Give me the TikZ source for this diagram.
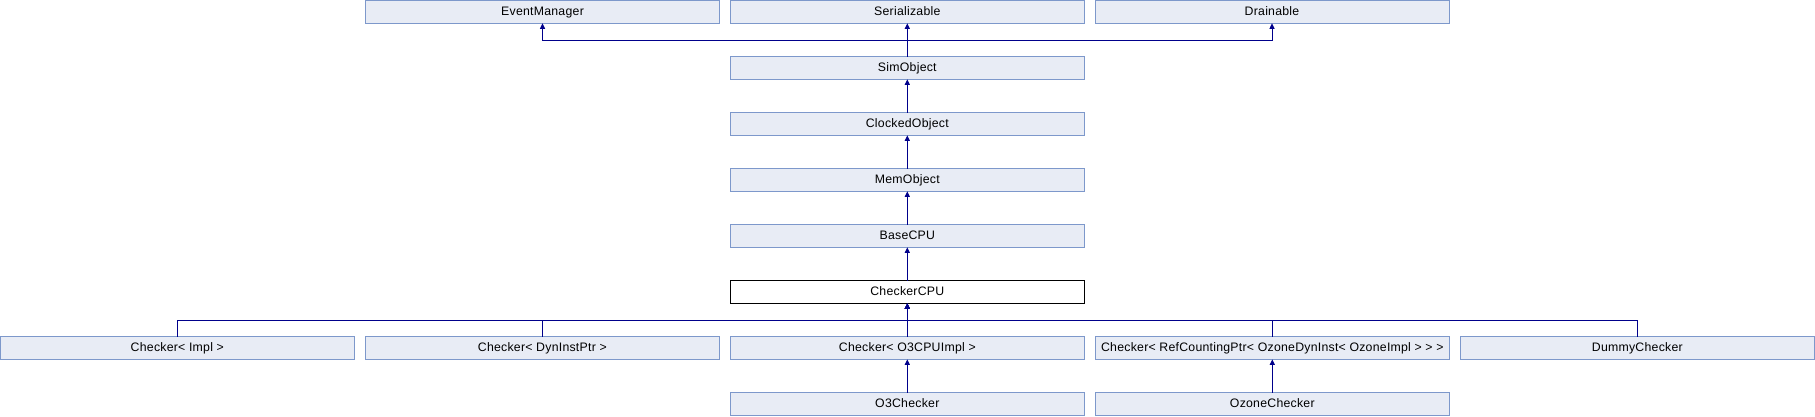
\documentclass[tikz,border=0pt]{standalone}
\usepackage{fontspec}
\setmainfont{Liberation Sans}
\newfontfamily\boxfont[LetterSpace=2]{Liberation Sans}
\usepackage{xcolor}
\usepackage{tikz}
\usetikzlibrary{positioning,arrows.meta,calc}
\definecolor{boxfill}{HTML}{E8ECF5}
\definecolor{boxline}{HTML}{7D98CB}
\definecolor{arrline}{HTML}{00008B}
\tikzset{
  box/.style={draw=boxline,fill=boxfill,line width=1pt,outer sep=0pt,minimum width=354pt,minimum height=22.6pt,inner sep=0pt,text height=8.8pt,text depth=2.6pt,font=\boxfont\fontsize{12.3}{14}\selectfont},
  cur/.style={box,draw=black,fill=white},
  arr/.style={{Triangle[width=5pt,length=5.5pt]}-,draw=arrline,line width=1pt},
}

\begin{document}
\begin{tikzpicture}[x=1pt,y=1pt]
\useasboundingbox (0,0) rectangle (1815,-416);
% top row
\node[box] (em) at (542.5,-12) {EventManager};
\node[box] (ser) at (907.3,-12) {Serializable};
\node[box] (drn) at (1272,-12) {Drainable};
% chain
\node[box, below=33.4pt of ser] (sim) {SimObject};
\node[box, below=33.4pt of sim] (clk) {ClockedObject};
\node[box, below=33.4pt of clk] (mem) {MemObject};
\node[box, below=33.4pt of mem] (base) {BaseCPU};
\node[cur, below=33.4pt of base] (chk) {CheckerCPU};
% checkers
\node[box, below=33.4pt of chk] (o3impl) {Checker{<} O3CPUImpl {>}};
\node[box, left=11pt of o3impl] (dyn) {Checker{<} DynInstPtr {>}};
\node[box, left=11pt of dyn] (impl) {Checker{<} Impl {>}};
\node[box, right=11pt of o3impl] (ozimpl) {Checker{<} RefCountingPtr{<} OzoneDynInst{<} OzoneImpl {>} {>} {>}};
\node[box, right=11pt of ozimpl] (dummy) {DummyChecker};
\node[box, below=33.4pt of o3impl] (o3c) {O3Checker};
\node[box, below=33.4pt of ozimpl] (ozc) {OzoneChecker};

\draw[arr] (em.south) -- ++(0,-16.7) -| (sim.north);
\draw[arr] (ser.south) -- (sim.north);
\draw[arr] (drn.south) -- ++(0,-16.7) -| (sim.north);
\draw[arr] (sim.south) -- (clk.north);
\draw[arr] (clk.south) -- (mem.north);
\draw[arr] (mem.south) -- (base.north);
\draw[arr] (base.south) -- (chk.north);
\foreach \n in {impl,dyn,o3impl,ozimpl,dummy}
  \draw[arr] (chk.south) -- ++(0,-16.7) -| (\n.north);
\draw[arr] (o3impl.south) -- (o3c.north);
\draw[arr] (ozimpl.south) -- (ozc.north);
\end{tikzpicture}
\end{document}
